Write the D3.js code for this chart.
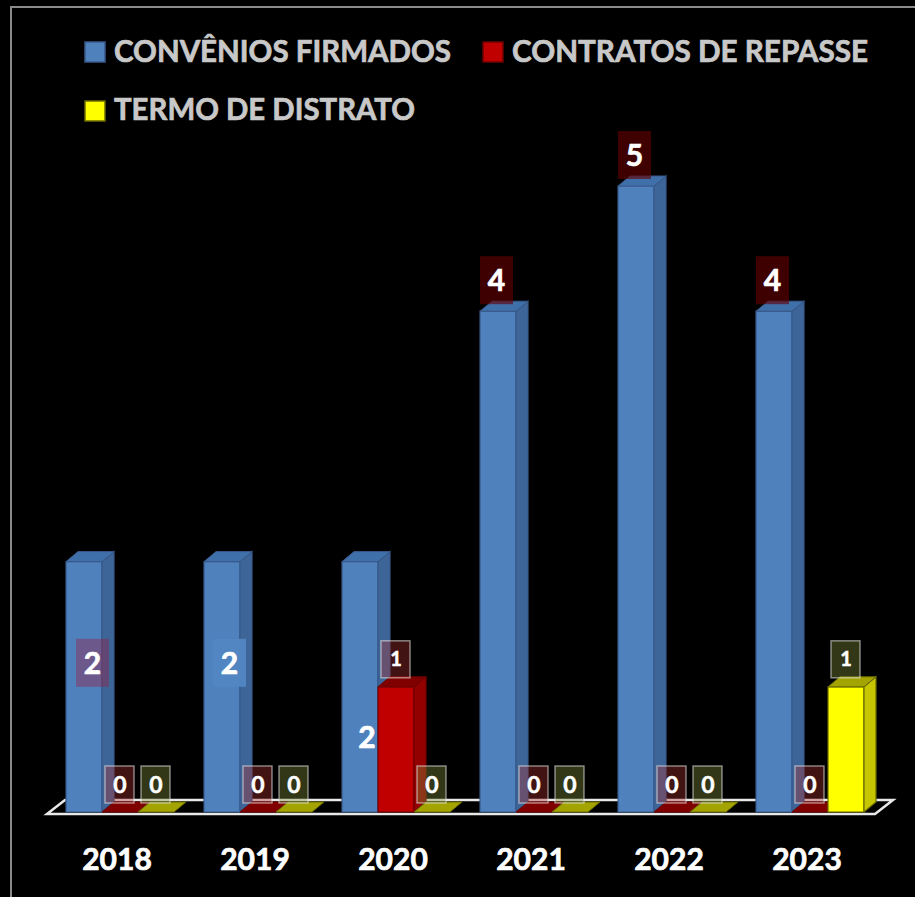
<!DOCTYPE html>
<html>
<head>
<meta charset="utf-8">
<script src="https://cdn.jsdelivr.net/npm/d3@7"></script>
<style>
html,body{margin:0;padding:0;background:#000;}
svg{display:block;}
</style>
</head>
<body>
<script>
// ---- data ----
const years = ["2018","2019","2020","2021","2022","2023"];
const seriesNames = ["CONVÊNIOS FIRMADOS","CONTRATOS DE REPASSE","TERMO DE DISTRATO"];
const convenios = [2,2,2,4,5,4];
const contratos = [0,0,1,0,0,0];
const termo = [0,0,0,0,0,1];
const seriesValues = [convenios, contratos, termo];

// ---- styles ----
const frontCol = ["#4f81bd","#c00000","#ffff00"];
const sideCol  = ["#3d6597","#930000","#c6c600"];
const topCol   = ["#4070aa","#800000","#a4a400"];
const strokeCol= ["#38598a","#6e0000","#6b6b00"];
const smallBoxFill = [null,"rgba(170,50,50,0.38)","rgba(130,145,60,0.38)"];

const W = 915, H = 897;
const svg = d3.select("body").append("svg").attr("width",W).attr("height",H);
svg.append("rect").attr("width",W).attr("height",H).attr("fill","#000");
svg.append("rect").attr("x",11).attr("y",7).attr("width",1000).attr("height",1000)
  .attr("fill","none").attr("stroke","#8a8a8a").attr("stroke-width",2);

const x = d3.scaleBand().domain(years).range([51,879]).padding(0);
const x1 = d3.scaleBand().domain(d3.range(3)).range([15,123]).padding(0);
const y = d3.scaleLinear().domain([0,5]).range([812,186]);
const DX = 12, DY = -10;
const font = "Lato, 'Open Sans', 'DejaVu Sans', sans-serif";

// floor
const fy = y(0)+2, fx0 = 47, fx1 = 875, FDX = 18, FDY = -14;
svg.append("path")
  .attr("d", `M${fx0},${fy} L${fx1},${fy} L${fx1+FDX},${fy+FDY} L${fx0+FDX},${fy+FDY} Z`)
  .attr("fill","#000").attr("stroke","#e8e8e8").attr("stroke-width",2.5);

// bars
const gBars = svg.append("g");
years.forEach((yr,i)=>{
  seriesValues.forEach((vals,s)=>{
    const v = vals[i];
    const xl = x(yr)+x1(s), xr = xl + x1.bandwidth();
    const yt = y(v), yb = y(0);
    const g = gBars.append("g");
    if (v > 0) {
      g.append("path").attr("d",`M${xl},${yb} L${xr},${yb} L${xr},${yt} L${xl},${yt} Z`)
        .attr("fill",frontCol[s]).attr("stroke",strokeCol[s]).attr("stroke-width",1.2);
      g.append("path").attr("d",`M${xr},${yb} L${xr+DX},${yb+DY} L${xr+DX},${yt+DY} L${xr},${yt} Z`)
        .attr("fill",sideCol[s]).attr("stroke",strokeCol[s]).attr("stroke-width",1.2);
    }
    g.append("path").attr("d",`M${xl},${yt} L${xr},${yt} L${xr+DX},${yt+DY} L${xl+DX},${yt+DY} Z`)
      .attr("fill",topCol[s]).attr("stroke",strokeCol[s]).attr("stroke-width",1);
  });
});

// labels
const gLab = svg.append("g");
const blueMode = ["midPurple","midBlue","plain","top","top","top"];
years.forEach((yr,i)=>{
  const v = convenios[i];
  const xl = x(yr)+x1(0);
  const yt = y(v), yb = y(0);
  const mode = blueMode[i];
  let bx, by, bw = 33, bh = 48, fill = null, tx, ty;
  if (mode === "midPurple") { bx = xl+10; by = (yt+yb)/2 - bh; fill = "rgba(150,30,70,0.42)"; }
  else if (mode === "midBlue") { bx = xl+9; by = (yt+yb)/2 - bh; fill = "rgba(82,134,194,0.97)"; }
  else if (mode === "top") { bx = xl; by = yt - 7 - bh; fill = "rgba(100,0,0,0.62)"; }
  if (mode === "plain") { tx = xl+25; ty = yt + 186; }
  else { tx = bx + bw/2; ty = by + 35; }
  if (fill) gLab.append("rect").attr("x",bx).attr("y",by).attr("width",bw).attr("height",bh).attr("fill",fill);
  gLab.append("text").attr("x",tx).attr("y",ty).attr("text-anchor","middle")
    .attr("font-family",font).attr("font-weight",700).attr("font-size",30)
    .attr("fill","#fff").attr("stroke","#fff").attr("stroke-width",0.7).text(v);
});
[1,2].forEach(s=>{
  years.forEach((yr,i)=>{
    const v = seriesValues[s][i];
    const cx = x(yr)+x1(s)+x1.bandwidth()/2;
    const bottom = y(v)+DY+1;
    const bw = 29, bh = 37;
    gLab.append("rect").attr("x",cx-bw/2-0.5).attr("y",bottom-bh).attr("width",bw).attr("height",bh)
      .attr("fill",smallBoxFill[s]).attr("stroke","rgba(230,230,230,0.55)").attr("stroke-width",1.5);
    gLab.append("text").attr("x",cx).attr("y",bottom-bh/2+ (v===0?8:7)).attr("text-anchor","middle")
      .attr("font-family",font).attr("font-weight",700).attr("font-size", v===0?23:20)
      .attr("fill","#fff").attr("stroke","#fff").attr("stroke-width",0.5).text(v);
  });
});

// x axis labels
const gx = svg.append("g");
years.forEach(yr=>{
  gx.append("text").attr("x",x(yr)+x.bandwidth()/2-3).attr("y",870)
    .attr("text-anchor","middle").attr("font-family",font).attr("font-weight",700)
    .attr("font-size",30).attr("fill","#fff").attr("stroke","#fff").attr("stroke-width",0.7).text(yr);
});

// legend
const legendPos = [[85,42,114,62,337],[483,42,512,62,356],[85,101,114,120,301]];
seriesNames.forEach((n,s)=>{
  const [sx,sy,tx,ty,tw] = legendPos[s];
  svg.append("rect").attr("x",sx).attr("y",sy).attr("width",20).attr("height",20)
    .attr("fill",frontCol[s]).attr("stroke",strokeCol[s]).attr("stroke-width",1.5);
  svg.append("text").attr("x",tx).attr("y",ty).attr("font-family",font).attr("font-weight",700)
    .attr("font-size",30).attr("fill","#c8c8c8").attr("stroke","#c8c8c8").attr("stroke-width",0.7)
    .attr("textLength",tw).attr("lengthAdjust","spacingAndGlyphs").text(n);
});
</script>
</body>
</html>
